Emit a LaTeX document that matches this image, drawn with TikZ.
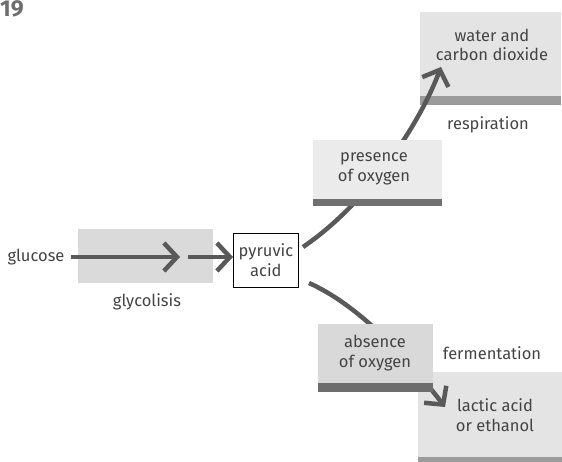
\documentclass[tikz,border=0pt]{standalone}
\usepackage{fontspec}
\setmainfont{Fira Sans}
\usetikzlibrary{arrows.meta}
\definecolor{txt}{HTML}{444444}
\definecolor{ln}{HTML}{595959}
\definecolor{glyc}{HTML}{DADADA}
\definecolor{pres}{HTML}{EBEBEB}
\definecolor{presbar}{HTML}{707070}
\definecolor{abs}{HTML}{D9D9D9}
\definecolor{absbar}{HTML}{6D6D6D}
\definecolor{res}{HTML}{E4E4E4}
\definecolor{resbar}{HTML}{9B9B9B}
\definecolor{numc}{HTML}{6E6E6E}
\tikzset{
  lbl/.style={text=txt, font=\fontsize{16.5}{19.5}\selectfont, align=center, inner sep=0pt},
  flow/.style={draw=ln, line width=4.5pt, -{Straight Barb[length=13pt,width=28pt]}},
}
\begin{document}
\begin{tikzpicture}[x=1pt,y=-1pt]
\useasboundingbox (0,0) rectangle (562,462);
% section number
\node[anchor=base west, text=numc, font=\fontsize{23}{23}\selectfont\bfseries, inner sep=0pt] (num) at (0,17) {19};
% glycolysis band
\node[fill=glyc, minimum width=135pt, minimum height=54pt, inner sep=0pt, anchor=north west] (glyc) at (78,229) {};
\node[lbl] (glycl) at (147,302) {glycolisis};
\node[lbl] (glucose) at (36,257) {glucose};
\coordinate (g1) at (180,257);
\coordinate (g2) at (188,257);
% pyruvic acid
\node[draw=black, line width=0.8pt, fill=white, minimum width=65pt, minimum height=54pt, anchor=north west, inner sep=0pt] (pyr) at (233,233) {};
\node[lbl] at (pyr.center) {pyruvic\\acid};
% water and carbon dioxide
\node[fill=res, minimum width=141pt, minimum height=84pt, anchor=north west, inner sep=0pt] (water) at (420,12) {};
\fill[resbar] (water.south west) rectangle ++(141,9);
\node[lbl] at (492,45) {water and\\carbon dioxide};
\node[lbl] (resp) at (488,125) {respiration};
% lactic acid box
\node[fill=res, minimum width=144pt, minimum height=85pt, anchor=north west, inner sep=0pt] (lactic) at (418,372) {};
\fill[resbar] (lactic.south west) rectangle ++(144,6);
\node[lbl] at (495,415) {lactic acid\\or ethanol};
\node[lbl] (ferm) at (492,353) {fermentation};
% arrows
\draw[flow] (glucose.east) ++(6,0) -- (g1);
\draw[flow] (g2) -- (pyr.west |- g2);
\coordinate (up0) at (303,247);
\coordinate (upT) at (441,67);
\draw[flow] (up0) .. controls (365,205) and (418,128) .. (upT);
\coordinate (dn0) at (309,283);
\coordinate (dnT) at (445,407);
\draw[flow] (dn0) .. controls (358,305) and (405,355) .. (dnT);
% presence of oxygen
\node[fill=pres, minimum width=129pt, minimum height=59pt, anchor=north west, inner sep=0pt] (pres) at (313,140) {};
\fill[presbar] (pres.south west) rectangle ++(129,7);
\node[lbl] at (374,169) {presence\\of oxygen};
% absence of oxygen
\node[fill=abs, minimum width=115pt, minimum height=59pt, anchor=north west, inner sep=0pt] (abs) at (318,324) {};
\fill[absbar] (abs.south west) rectangle ++(115,9);
\node[lbl] at (375,353) {absence\\of oxygen};
\end{tikzpicture}
\end{document}
